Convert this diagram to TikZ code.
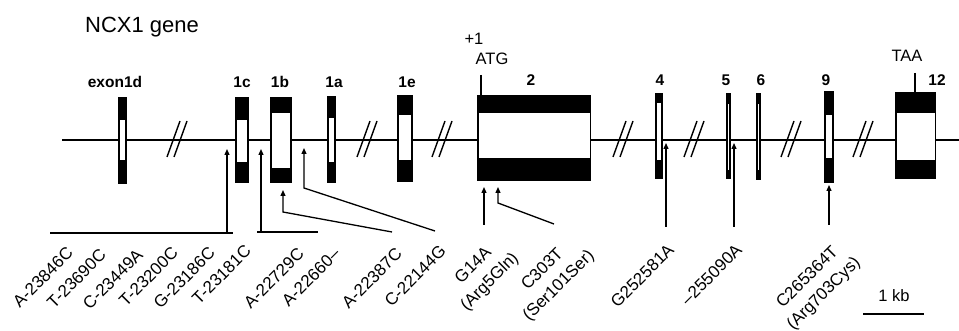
\documentclass[tikz,border=0pt]{standalone}
\usepackage{fontspec}
\setmainfont{Liberation Sans}
\usetikzlibrary{arrows.meta}
\newcommand\exonbox[8]{%
  \fill[black] (#1,#3) rectangle (#2,#4);
  \fill[white] (#5,#7) rectangle (#6,#8);}
\newcommand\brkmark[1]{%
  \draw[brk] (#1-10,157) -- (#1+3,121);
  \draw[brk] (#1-3,157) -- (#1+10,121);}
\begin{document}
\begin{tikzpicture}[x=1pt,y=-1pt,
  lbl/.style={font=\fontsize{15.5}{18}\selectfont\bfseries, inner sep=0},
  toplbl/.style={font=\fontsize{16.5}{20}\selectfont, inner sep=0},
  mut/.style={font=\fontsize{17}{23}\selectfont, rotate=45, anchor=east, inner sep=0},
  mut2/.style={font=\fontsize{17}{23}\selectfont, rotate=45, align=center, inner sep=0},
  conn/.style={line width=1.3pt},
  arr/.style={conn, -{Triangle[length=6pt,width=5pt]}},
  brk/.style={line width=1.4pt}
]
\useasboundingbox (0,0) rectangle (959,331);

% title
\node[font=\fontsize{22}{26}\selectfont, anchor=base west, inner sep=0] (title) at (85,33) {NCX1 gene};

% main line
\coordinate (lineL) at (62,140);
\coordinate (lineR) at (959,140);
\draw[line width=2.2pt] (lineL) -- (lineR);

% breaks
\brkmark{177}
\brkmark{367}
\brkmark{442}
\brkmark{623}
\brkmark{694}
\brkmark{791}
\brkmark{863}

% exons
\exonbox{118}{127}{97}{184}{120}{125}{120}{160}
\exonbox{235}{249}{97}{183}{237}{247}{120}{162}
\exonbox{270}{292}{97}{183}{272}{290}{113}{168}
\exonbox{327}{336}{96}{183}{329}{334}{118}{162}
\exonbox{397}{413}{95}{182}{399}{411}{115}{160}
\exonbox{477}{591}{95}{181}{478.5}{589.5}{113}{158}
\exonbox{655}{663}{93}{179}{657}{661}{103}{160}
\exonbox{726}{731}{93}{179}{727.8}{729.4}{104}{170}
\exonbox{756}{761}{93}{180}{757.8}{759.4}{104}{170}
\exonbox{824}{834}{91}{183}{826}{832}{115}{158}
\exonbox{895}{936}{92}{179}{896.5}{934.5}{113}{160}

% exon labels
\node[lbl] (l1d) at (115,82) {exon1d};
\node[lbl] (l1c) at (242,82) {1c};
\node[lbl] (l1b) at (280,82) {1b};
\node[lbl] (l1a) at (334,82) {1a};
\node[lbl] (l1e) at (407,82) {1e};
\node[lbl] (l2) at (531,80) {2};
\node[lbl] (l4) at (660,80) {4};
\node[lbl] (l5) at (726,80) {5};
\node[lbl] (l6) at (761,80) {6};
\node[lbl] (l9) at (826,80) {9};
\node[lbl] (l12) at (937,80) {12};

\node[toplbl] (plus1) at (474,39) {+1};
\node[toplbl] (atg) at (492,59) {ATG};
\node[toplbl] (taa) at (907,56) {TAA};
\coordinate (atgA) at (481,75); \coordinate (atgB) at (481,95);
\coordinate (taaA) at (915,73); \coordinate (taaB) at (915,92);
\draw[conn] (atgA) -- (atgB);
\draw[conn] (taaA) -- (taaB);

% mutation labels
\node[mut] (m1) at (70,250) {A-23846C};
\node[mut] (m2) at (103,252) {T-23690C};
\node[mut] (m3) at (140,252) {C-23449A};
\node[mut] (m4) at (175,250) {T-23200C};
\node[mut] (m5) at (212,250) {G-23186C};
\node[mut] (m6) at (248,248) {T-23181C};
\node[mut] (m7) at (301,251) {A-22729C};
\node[mut] (m8) at (337,251) {A-22660–};
\node[mut] (m9) at (399,251) {A-22387C};
\node[mut] (m10) at (443,248) {C-22144G};
\node[mut2] (m11) at (482,274) {G14A\\(Arg5Gln)};
\node[mut2] (m12) at (551,278) {C303T\\(Ser101Ser)};
\node[mut] (m13) at (671,247) {G252581A};
\node[mut] (m14) at (739,247) {–255090A};
\node[mut2] (m15) at (816,286) {C265364T\\(Arg703Cys)};

% connectors
\coordinate (g1a) at (50,233); \coordinate (g1b) at (233,233);
\coordinate (g1v) at (227,233); \coordinate (t1) at (227,149);
\draw[conn] (g1a) -- (g1b);
\draw[arr] (g1v) -- (t1);

\coordinate (g2a) at (257,232); \coordinate (g2b) at (318,232);
\coordinate (g2v) at (261,232); \coordinate (t2) at (261,149);
\draw[conn] (g2a) -- (g2b);
\draw[arr] (g2v) -- (t2);

\coordinate (c3a) at (392,232); \coordinate (c3b) at (283,212); \coordinate (t3) at (283,190);
\draw[arr] (c3a) -- (c3b) -- (t3);

\coordinate (c4a) at (435,231); \coordinate (c4b) at (304,188); \coordinate (t4) at (304,148);
\draw[arr] (c4a) -- (c4b) -- (t4);

\coordinate (c5a) at (484,225); \coordinate (t5) at (484,187);
\draw[arr] (c5a) -- (t5);

\coordinate (c6a) at (554,224); \coordinate (c6b) at (498,203); \coordinate (t6) at (498,187);
\draw[arr] (c6a) -- (c6b) -- (t6);

\coordinate (c7a) at (666,227); \coordinate (t7) at (666,143);
\draw[arr] (c7a) -- (t7);

\coordinate (c8a) at (734,227); \coordinate (t8) at (734,143);
\draw[arr] (c8a) -- (t8);

\coordinate (c9a) at (829,225); \coordinate (t9) at (829,185);
\draw[arr] (c9a) -- (t9);

% scale bar
\node[toplbl] (kb) at (894,296) {1 kb};
\coordinate (sbL) at (863,314); \coordinate (sbR) at (924,314);
\draw[conn] (sbL) -- (sbR);
\end{tikzpicture}
\end{document}
